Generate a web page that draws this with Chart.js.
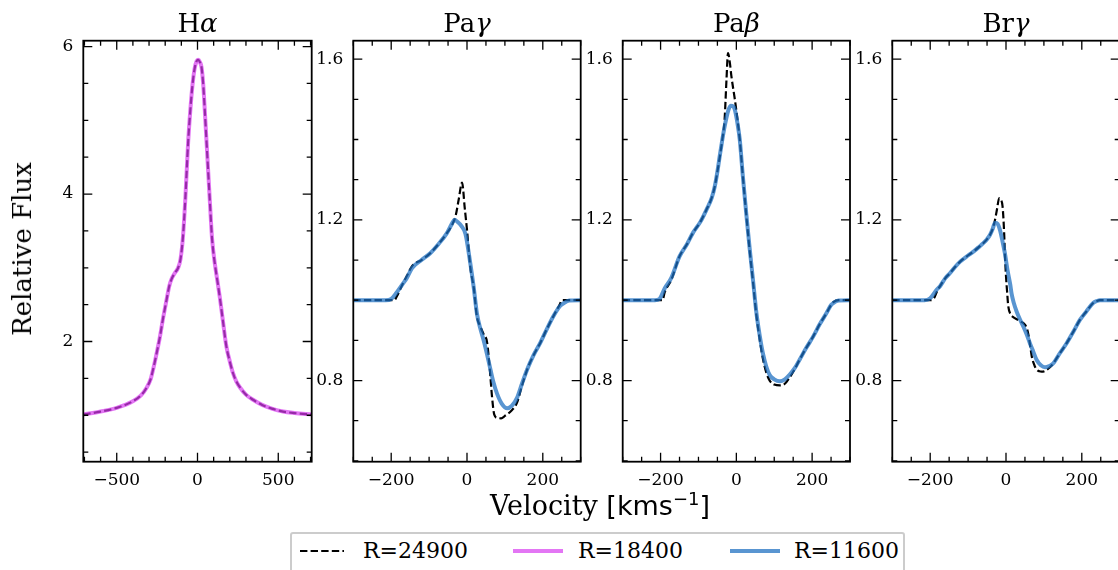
<!DOCTYPE html>
<html>
<head>
<meta charset="utf-8">
<script src="https://cdn.jsdelivr.net/npm/chart.js@4.4.1/dist/chart.umd.min.js"></script>
<style>
  body { margin: 0; background: #fff; }
  #wrap { position: relative; width: 1118px; height: 570px; overflow: hidden; background: #fff; }
  #wrap canvas { position: absolute; left: 0; top: 0; }
  .serif { font-family: "DejaVu Serif", serif; color: #000; }
  #ylab { position: absolute; left: 22px; top: 249px; font-size: 26px; white-space: nowrap;
          transform: translate(-50%, -50%) rotate(-90deg); }
  #xlab { position: absolute; left: 0; width: 1200px; top: 490px; text-align: center; font-size: 27px; white-space: nowrap; }
  #xlab .sans { font-family: "DejaVu Sans", sans-serif; }
  #xlab sup { font-size: 18px; line-height: 0; }
  #legend { position: absolute; left: 290px; top: 532px; width: 611px; height: 60px;
            border: 2px solid #cccccc; border-radius: 3px; background: #fff; }
  #legend svg { position: absolute; top: 0; }
  #legend span { position: absolute; top: 6px; font-size: 22px; line-height: 22px; white-space: nowrap; }
</style>
</head>
<body>
<div id="wrap">
  <canvas id="p0" width="1130" height="570"></canvas>
  <canvas id="p1" width="1130" height="570"></canvas>
  <canvas id="p2" width="1130" height="570"></canvas>
  <canvas id="p3" width="1130" height="570"></canvas>
  <div id="ylab" class="serif">Relative Flux</div>
  <div id="xlab" class="serif">Velocity <span class="sans">[kms<sup>−1</sup>]</span></div>
  <div id="legend" class="serif"></div>
</div>
<script>
// series names / colours
const seriesLabels = ['R=24900', 'R=18400', 'R=11600'];
const seriesColors = ['#000000', 'rgba(215,60,240,0.7)', 'rgba(27,110,192,0.73)'];

// panel titles (roman part, italic greek part)
const panelTitles = [['H', 'α'], ['Pa', 'γ'], ['Pa', 'β'], ['Br', 'γ']];

// H alpha - both resolutions give the same profile
const haVel = [-707, -600, -500, -400, -350, -316, -290, -275, -255, -233, -212, -192, -175, -160, -140, -120, -105, -90, -75, -58, -44, -31, -18, -6, 4, 15, 25, 35, 45, 60, 76, 90, 107, 122, 138, 155, 179, 200, 220, 240, 262, 300, 344, 400, 460, 530, 600, 707];
const haR24900 = [1.01, 1.05, 1.10, 1.19, 1.27, 1.37, 1.49, 1.62, 1.82, 2.06, 2.33, 2.56, 2.75, 2.85, 2.93, 3.00, 3.12, 3.42, 3.95, 4.70, 5.15, 5.48, 5.70, 5.80, 5.82, 5.79, 5.72, 5.50, 5.14, 4.55, 3.92, 3.40, 3.06, 2.84, 2.60, 2.32, 1.93, 1.73, 1.57, 1.46, 1.38, 1.28, 1.21, 1.14, 1.09, 1.05, 1.03, 1.01];
const haR18400 = [1.01, 1.05, 1.10, 1.19, 1.27, 1.37, 1.49, 1.62, 1.82, 2.06, 2.33, 2.56, 2.75, 2.85, 2.93, 3.00, 3.12, 3.42, 3.95, 4.70, 5.15, 5.48, 5.70, 5.80, 5.82, 5.79, 5.72, 5.50, 5.14, 4.55, 3.92, 3.40, 3.06, 2.84, 2.60, 2.32, 1.93, 1.73, 1.57, 1.46, 1.38, 1.28, 1.21, 1.14, 1.09, 1.05, 1.03, 1.01];

// Pa gamma
const pagVel24900 = [-300, -250, -200, -192, -185, -170, -159, -145, -120, -97, -75, -53, -38, -30, -22, -13, -6, 0, 9, 18, 26, 35, 44, 53, 60, 66, 72, 80, 90, 100, 115, 132, 145, 159, 175, 194, 210, 229, 245, 250, 270, 300];
const pagR24900 = [1.0, 1.0, 1.0, 1.0, 1.01, 1.04, 1.06, 1.085, 1.10, 1.117, 1.14, 1.167, 1.19, 1.21, 1.25, 1.293, 1.23, 1.175, 1.08, 1.03, 0.96, 0.935, 0.915, 0.895, 0.83, 0.76, 0.715, 0.707, 0.706, 0.712, 0.723, 0.745, 0.787, 0.828, 0.862, 0.895, 0.927, 0.962, 0.99, 1.0, 1.0, 1.0];
const pagVel11600 = [-300, -250, -215, -200, -185, -170, -159, -145, -120, -97, -75, -53, -40, -33, -25, -15, -4, 9, 18, 26, 35, 44, 53, 62, 70, 79, 92, 106, 118, 132, 145, 159, 175, 194, 210, 229, 245, 256, 270, 300];
const pagR11600 = [1.0, 1.0, 1.0, 1.003, 1.02, 1.04, 1.055, 1.08, 1.10, 1.117, 1.14, 1.167, 1.19, 1.20, 1.195, 1.185, 1.165, 1.09, 1.03, 0.968, 0.93, 0.90, 0.865, 0.827, 0.795, 0.768, 0.742, 0.731, 0.737, 0.757, 0.792, 0.828, 0.862, 0.895, 0.927, 0.962, 0.985, 0.993, 0.999, 1.0];

// Pa beta
const pabVel24900 = [-300, -250, -200, -195, -189, -172, -150, -130, -115, -95, -79, -65, -57, -50, -44, -37, -31, -26, -22, -17, -13, -4, 3, 9, 17, 26, 35, 44, 53, 62, 70, 79, 88, 100, 115, 128, 141, 155, 167, 185, 203, 220, 238, 250, 256, 270, 300];
const pabR24900 = [1.0, 1.0, 1.0, 1.0, 1.02, 1.05, 1.109, 1.14, 1.167, 1.195, 1.225, 1.255, 1.283, 1.32, 1.355, 1.40, 1.45, 1.55, 1.615, 1.59, 1.557, 1.50, 1.45, 1.40, 1.31, 1.215, 1.125, 1.045, 0.962, 0.90, 0.855, 0.82, 0.80, 0.79, 0.788, 0.792, 0.808, 0.83, 0.852, 0.882, 0.91, 0.94, 0.968, 0.988, 0.995, 1.0, 1.0];
const pabVel11600 = [-300, -250, -215, -203, -189, -172, -150, -130, -115, -95, -79, -65, -57, -50, -44, -37, -31, -22, -15, -8, -4, 3, 9, 17, 26, 35, 44, 53, 62, 70, 79, 88, 100, 115, 128, 141, 155, 167, 185, 203, 220, 238, 250, 256, 270, 300];
const pabR11600 = [1.0, 1.0, 1.0, 1.003, 1.03, 1.055, 1.109, 1.14, 1.167, 1.195, 1.225, 1.255, 1.283, 1.32, 1.358, 1.40, 1.432, 1.47, 1.484, 1.482, 1.474, 1.44, 1.40, 1.31, 1.217, 1.13, 1.05, 0.968, 0.91, 0.868, 0.835, 0.814, 0.803, 0.798, 0.803, 0.815, 0.832, 0.852, 0.882, 0.91, 0.94, 0.968, 0.988, 0.993, 0.999, 1.0];

// Br gamma
const brgVel24900 = [-300, -250, -210, -200, -190, -183, -174, -160, -148, -135, -121, -105, -86, -72, -60, -50, -42, -35, -29, -24, -18, -13, -9, -5, -3, 0, 3, 6, 12, 19, 30, 40, 46, 53, 59, 64, 68, 75, 81, 88, 94, 103, 116, 125, 142, 160, 178, 195, 212, 230, 240, 248, 270, 300];
const brgR24900 = [1.0, 1.0, 1.0, 1.0, 1.005, 1.02, 1.035, 1.055, 1.067, 1.082, 1.096, 1.108, 1.121, 1.132, 1.142, 1.152, 1.163, 1.178, 1.20, 1.225, 1.254, 1.25, 1.233, 1.17, 1.117, 1.06, 1.02, 0.985, 0.965, 0.958, 0.952, 0.946, 0.943, 0.935, 0.915, 0.885, 0.86, 0.838, 0.827, 0.823, 0.822, 0.824, 0.833, 0.843, 0.868, 0.893, 0.922, 0.951, 0.972, 0.993, 0.998, 1.0, 1.0, 1.0];
const brgVel11600 = [-300, -250, -215, -200, -183, -174, -160, -148, -135, -121, -105, -86, -72, -60, -50, -42, -35, -29, -22, -16, -10, -3, 4, 11, 15, 20, 28, 37, 46, 55, 63, 72, 81, 92, 103, 114, 125, 142, 160, 178, 195, 212, 230, 240, 248, 270, 300];
const brgR11600 = [1.0, 1.0, 1.0, 1.005, 1.026, 1.035, 1.055, 1.067, 1.082, 1.096, 1.108, 1.121, 1.132, 1.142, 1.152, 1.163, 1.178, 1.193, 1.19, 1.175, 1.15, 1.117, 1.075, 1.04, 1.015, 0.995, 0.972, 0.952, 0.934, 0.914, 0.893, 0.872, 0.851, 0.838, 0.833, 0.836, 0.843, 0.868, 0.893, 0.922, 0.951, 0.972, 0.993, 0.998, 1.0, 1.0, 1.0];

// tick labels
const haXTicks = [-500, 0, 500];
const haYTicks = [2, 4, 6];
const nirXTicks = [-200, 0, 200];
const nirYTicks = [0.8, 1.2, 1.6];

const FONT = '"DejaVu Serif", serif';

function toXY(xs, ys) {
    return xs.map((x, i) => ({ x: x, y: ys[i] }));
}

function fmt(v) {
    return (v < 0 ? '\u2212' : '') + Math.abs(v);
}

// matplotlib-ish frame: box all round, ticks pointing in, plus the title
const frameTicks = {
    id: 'frameTicks',
    afterDraw(chart, args, o) {
        const ctx = chart.ctx;
        const a = chart.chartArea;
        const xs = chart.scales.x, ys = chart.scales.y;
        ctx.save();
        ctx.strokeStyle = '#000';
        ctx.lineWidth = 1.3;
        ctx.beginPath();
        const isMajor = (v, majors, step) => majors.some(m => Math.abs(m - v) < step / 10);
        for (let k = Math.ceil(xs.min / o.xMinor); k * o.xMinor <= xs.max; k++) {
            const v = k * o.xMinor;
            const px = xs.getPixelForValue(v);
            const len = isMajor(v, o.xMajor, o.xMinor) ? 9 : 5;
            ctx.moveTo(px, a.bottom); ctx.lineTo(px, a.bottom - len);
            ctx.moveTo(px, a.top); ctx.lineTo(px, a.top + len);
        }
        for (let k = Math.ceil(ys.min / o.yMinor); k * o.yMinor <= ys.max + 1e-9; k++) {
            const v = k * o.yMinor;
            const py = ys.getPixelForValue(v);
            const len = isMajor(v, o.yMajor, o.yMinor) ? 9 : 5;
            ctx.moveTo(a.left, py); ctx.lineTo(a.left + len, py);
            ctx.moveTo(a.right, py); ctx.lineTo(a.right - len, py);
        }
        ctx.stroke();
        ctx.lineWidth = 1.8;
        ctx.strokeRect(a.left, a.top, a.right - a.left, a.bottom - a.top);

        // title: roman + italic greek letter
        ctx.fillStyle = '#000';
        ctx.textBaseline = 'alphabetic';
        ctx.textAlign = 'left';
        ctx.font = '26px ' + FONT;
        const w1 = ctx.measureText(o.title[0]).width;
        ctx.font = 'italic 26px ' + FONT;
        const w2 = ctx.measureText(o.title[1]).width;
        const x0 = (a.left + a.right) / 2 - (w1 + w2) / 2;
        ctx.font = '26px ' + FONT;
        ctx.fillText(o.title[0], x0, 32);
        ctx.font = 'italic 26px ' + FONT;
        ctx.fillText(o.title[1], x0 + w1, 32);
        ctx.restore();
    }
};

function makePanel(id, p) {
    const W = 1130;
    const datasets = [
        {
            label: p.label2, data: toXY(p.v2, p.f2), borderColor: p.color2, borderWidth: 4,
            pointRadius: 0, cubicInterpolationMode: 'monotone', borderJoinStyle: 'round', order: 0
        },
        {
            label: seriesLabels[0], data: toXY(p.v1, p.f1), borderColor: seriesColors[0], borderWidth: 2.2,
            borderDash: [7.4, 3.2], pointRadius: 0, cubicInterpolationMode: 'monotone', order: 1
        }
    ];
    return new Chart(document.getElementById(id), {
        type: 'line',
        data: { datasets: datasets },
        plugins: [frameTicks],
        options: {
            responsive: false,
            animation: false,
            events: [],
            layout: {
                padding: { left: p.left - 40, right: W - p.right, top: 40.7, bottom: 570 - 461.7 - 30 }
            },
            plugins: {
                legend: { display: false },
                tooltip: { enabled: false },
                frameTicks: {
                    title: p.title, xMajor: p.xTicks, yMajor: p.yTicks, xMinor: p.xMinor, yMinor: p.yMinor
                }
            },
            scales: {
                x: {
                    type: 'linear', min: p.xMin, max: p.xMax,
                    grid: { display: false, drawTicks: false },
                    border: { display: false },
                    afterBuildTicks: s => { s.ticks = p.xTicks.map(v => ({ value: v })); },
                    afterFit: s => { s.height = 30; },
                    ticks: { color: '#000', font: { family: FONT, size: 17 }, padding: 9, callback: fmt, maxRotation: 0 }
                },
                y: {
                    type: 'linear', min: p.yMin, max: p.yMax,
                    grid: { display: false, drawTicks: false },
                    border: { display: false },
                    afterBuildTicks: s => { s.ticks = p.yTicks.map(v => ({ value: v })); },
                    afterFit: s => { s.width = 40; },
                    ticks: { color: '#000', font: { family: FONT, size: 17 }, padding: 10, callback: fmt }
                }
            }
        }
    });
}

makePanel('p0', {
    left: 83.3, right: 311.7, title: panelTitles[0],
    v1: haVel, f1: haR24900, v2: haVel, f2: haR18400, label2: seriesLabels[1], color2: seriesColors[1],
    xMin: -707, xMax: 707, yMin: 0.37, yMax: 6.08, xTicks: haXTicks, yTicks: haYTicks, xMinor: 100, yMinor: 0.5
});
makePanel('p1', {
    left: 353.3, right: 580.7, title: panelTitles[1],
    v1: pagVel24900, f1: pagR24900, v2: pagVel11600, f2: pagR11600, label2: seriesLabels[2], color2: seriesColors[2],
    xMin: -300, xMax: 300, yMin: 0.598, yMax: 1.646, xTicks: nirXTicks, yTicks: nirYTicks, xMinor: 50, yMinor: 0.1
});
makePanel('p2', {
    left: 622.7, right: 850, title: panelTitles[2],
    v1: pabVel24900, f1: pabR24900, v2: pabVel11600, f2: pabR11600, label2: seriesLabels[2], color2: seriesColors[2],
    xMin: -300, xMax: 300, yMin: 0.598, yMax: 1.646, xTicks: nirXTicks, yTicks: nirYTicks, xMinor: 50, yMinor: 0.1
});
makePanel('p3', {
    left: 892.3, right: 1119.7, title: panelTitles[3],
    v1: brgVel24900, f1: brgR24900, v2: brgVel11600, f2: brgR11600, label2: seriesLabels[2], color2: seriesColors[2],
    xMin: -300, xMax: 300, yMin: 0.598, yMax: 1.646, xTicks: nirXTicks, yTicks: nirYTicks, xMinor: 50, yMinor: 0.1
});

// legend, built from the series names and colours
const legend = document.getElementById('legend');
const handleX = [8, 221, 438];
const textX = [71, 286, 502];
seriesLabels.forEach((name, i) => {
    const dash = i === 0 ? ' stroke-dasharray="7.4 3.2"' : '';
    const lw = i === 0 ? 2 : 4;
    const len = i === 0 ? 44 : 50;
    legend.insertAdjacentHTML('beforeend',
        '<svg width="' + len + '" height="36" style="left:' + handleX[i] + 'px">' +
        '<line x1="0" y1="17" x2="' + len + '" y2="17" stroke="' + seriesColors[i] + '" stroke-width="' + lw + '"' + dash + '/></svg>' +
        '<span style="left:' + textX[i] + 'px">' + name + '</span>');
});
</script>
</body>
</html>
